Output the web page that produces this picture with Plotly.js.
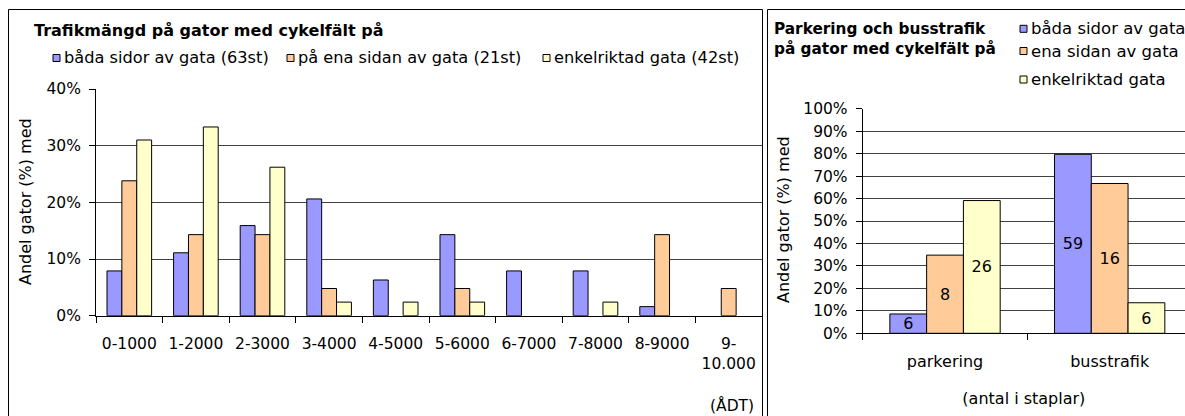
<!DOCTYPE html>
<html>
<head>
<meta charset="utf-8">
<script src="https://cdn.plot.ly/plotly-3.0.1.min.js"></script>
<style>
  html, body { margin: 0; padding: 0; background: #fff; overflow: hidden; }
  #chart { width: 1185px; height: 416px; }
</style>
</head>
<body>
<div id="chart"></div>
<script>
// ---------- data ----------
const trafficCategories = ['0-1000', '1-2000', '2-3000', '3-4000', '4-5000', '5-6000', '6-7000', '7-8000', '8-9000', '9-<br>10.000'];
const trafficSeriesNames = ['båda sidor av gata (63st)', 'på ena sidan av gata (21st)', 'enkelriktad gata (42st)'];
const trafficBothSides = [7.9, 11.1, 15.9, 20.6, 6.3, 14.3, 7.9, 7.9, 1.6, 0];
const trafficOneSide   = [23.8, 14.3, 14.3, 4.8, 0, 4.8, 0, 0, 14.3, 4.8];
const trafficOneWay    = [31.0, 33.3, 26.2, 2.4, 2.4, 2.4, 0, 2.4, 0, 0];
const trafficYTicks = [0, 10, 20, 30, 40];

const useCategories = ['parkering', 'busstrafik'];
const useSeriesNames = ['båda sidor av gata', 'ena sidan av gata', 'enkelriktad gata'];
const useBothSides = [8.6, 79.7];
const useOneSide   = [34.8, 66.7];
const useOneWay    = [59.1, 13.6];
const countBothSides = [6, 59];
const countOneSide   = [8, 16];
const countOneWay    = [26, 6];
const useYTicks = [0, 10, 20, 30, 40, 50, 60, 70, 80, 90, 100];

const leftTitle = 'Trafikmängd på gator med cykelfält på';
const rightTitle = 'Parkering och busstrafik<br>på gator med cykelfält på';
const yTitle = 'Andel gator (%) med';
const leftXNote = '(ÅDT)';
const rightXTitle = '(antal i staplar)';

// ---------- style ----------
const W = 1185, H = 416;
const FONT = 'DejaVu Sans';
const colors = ['#9999FF', '#FFCC99', '#FFFFCC'];
const px = x => x / W;
const py = y => 1 - y / H;
const nz = arr => arr.map(v => (v === 0 ? null : v));

const barLine = { color: '#000000', width: 1 };

const traces = [];
[trafficBothSides, trafficOneSide, trafficOneWay].forEach((vals, i) => {
  traces.push({
    type: 'bar', x: trafficCategories, y: nz(vals), name: trafficSeriesNames[i],
    xaxis: 'x', yaxis: 'y',
    marker: { color: colors[i], line: barLine },
    hoverinfo: 'skip', showlegend: false
  });
});
[[useBothSides, countBothSides], [useOneSide, countOneSide], [useOneWay, countOneWay]].forEach((pair, i) => {
  traces.push({
    type: 'bar', x: useCategories, y: pair[0], name: useSeriesNames[i],
    xaxis: 'x2', yaxis: 'y2',
    text: pair[1].map(String), textposition: 'inside', insidetextanchor: 'middle',
    textangle: 0, constraintext: 'none',
    textfont: { family: FONT, size: 16, color: '#000000' },
    marker: { color: colors[i], line: barLine },
    hoverinfo: 'skip', showlegend: false
  });
});

const tickFont = { family: FONT, size: 15.5, color: '#000000' };
const gridColor = '#404040';

const shapes = [
  // panel borders
  { type: 'rect', xref: 'paper', yref: 'paper', x0: px(8.5), x1: px(762.5), y0: py(440), y1: py(9.5),
    line: { color: '#000', width: 1 }, fillcolor: 'rgba(0,0,0,0)', layer: 'above' },
  { type: 'rect', xref: 'paper', yref: 'paper', x0: px(767.5), x1: px(1210), y0: py(440), y1: py(9.5),
    line: { color: '#000', width: 1 }, fillcolor: 'rgba(0,0,0,0)', layer: 'above' }
];
const annotations = [
  { text: '<b>' + leftTitle + '</b>', xref: 'paper', yref: 'paper', x: px(32), y: py(31), xanchor: 'left', yanchor: 'middle',
    showarrow: false, font: { family: FONT, size: 16, color: '#000' } },
  { text: '<b>' + rightTitle + '</b>', xref: 'paper', yref: 'paper', x: px(772), y: py(39), xanchor: 'left', yanchor: 'middle',
    showarrow: false, align: 'left', font: { family: FONT, size: 15.3, color: '#000' } },
  { text: yTitle, xref: 'paper', yref: 'paper', x: px(25), y: py(202), xanchor: 'center', yanchor: 'middle', textangle: -90,
    showarrow: false, font: { family: FONT, size: 16, color: '#000' } },
  { text: yTitle, xref: 'paper', yref: 'paper', x: px(783), y: py(220), xanchor: 'center', yanchor: 'middle', textangle: -90,
    showarrow: false, font: { family: FONT, size: 16, color: '#000' } },
  { text: leftXNote, xref: 'paper', yref: 'paper', x: px(756), y: py(405), xanchor: 'right', yanchor: 'middle',
    showarrow: false, font: { family: FONT, size: 15.5, color: '#000' } }
];

// legends drawn as marker squares + text
const leftLegendX = [53, 287, 543];
const leftLegendY = 58;
trafficSeriesNames.forEach((name, i) => {
  const x0 = leftLegendX[i];
  shapes.push({ type: 'rect', xref: 'paper', yref: 'paper', x0: px(x0), x1: px(x0 + 7), y0: py(leftLegendY + 3.5), y1: py(leftLegendY - 3.5),
    line: { color: '#000', width: 1 }, fillcolor: colors[i] });
  annotations.push({ text: name, xref: 'paper', yref: 'paper', x: px(x0 + 9), y: py(leftLegendY), xanchor: 'left', yanchor: 'middle',
    showarrow: false, font: { family: FONT, size: 16.2, color: '#000' } });
});
const rightLegendX = 1020;
const rightLegendY = [28.8, 51, 79.5];
useSeriesNames.forEach((name, i) => {
  const yc = rightLegendY[i];
  shapes.push({ type: 'rect', xref: 'paper', yref: 'paper', x0: px(rightLegendX), x1: px(rightLegendX + 7), y0: py(yc + 3.5), y1: py(yc - 3.5),
    line: { color: '#000', width: 1 }, fillcolor: colors[i] });
  annotations.push({ text: name, xref: 'paper', yref: 'paper', x: px(rightLegendX + 9), y: py(yc), xanchor: 'left', yanchor: 'middle',
    showarrow: false, font: { family: FONT, size: 16.5, color: '#000' } });
});

const layout = {
  width: W, height: H,
  margin: { l: 0, r: 0, t: 0, b: 0, pad: 0 },
  paper_bgcolor: '#ffffff', plot_bgcolor: 'rgba(0,0,0,0)',
  font: { family: FONT, size: 15.5, color: '#000' },
  barmode: 'group', bargap: 0.33, bargroupgap: 0,
  showlegend: false,
  xaxis: {
    type: 'category', domain: [px(96), px(762)], anchor: 'y',
    tickson: 'boundaries', ticks: 'outside', ticklen: 6, tickcolor: '#000', tickwidth: 1,
    showline: true, linecolor: '#000', linewidth: 1, showgrid: false,
    tickfont: tickFont, ticklabelstandoff: 14, automargin: false, fixedrange: true
  },
  yaxis: {
    domain: [py(315.7), py(89)], anchor: 'x', range: [0, 40],
    tickmode: 'array', tickvals: trafficYTicks, ticktext: trafficYTicks.map(v => v + '%'),
    ticks: 'outside', ticklen: 6, tickcolor: '#000', tickwidth: 1,
    showline: true, linecolor: '#000', linewidth: 1,
    showgrid: true, gridcolor: gridColor, gridwidth: 1, zeroline: false,
    tickfont: tickFont, ticklabelstandoff: 5, automargin: false, fixedrange: true
  },
  xaxis2: {
    type: 'category', domain: [px(862.7), 1], anchor: 'y2', range: [-0.5, 1.4575],
    tickson: 'boundaries', ticks: 'outside', ticklen: 6, tickcolor: '#000', tickwidth: 1,
    showline: true, linecolor: '#000', linewidth: 1, showgrid: false,
    tickfont: { family: FONT, size: 16, color: '#000' }, ticklabelstandoff: 13, automargin: false, fixedrange: true,
    title: { text: rightXTitle, font: { family: FONT, size: 16, color: '#000' }, standoff: 23 }
  },
  yaxis2: {
    domain: [py(333.3), py(108.7)], anchor: 'x2', range: [0, 100],
    tickmode: 'array', tickvals: useYTicks, ticktext: useYTicks.map(v => v + '%'),
    ticks: 'outside', ticklen: 6, tickcolor: '#000', tickwidth: 1,
    showline: true, linecolor: '#000', linewidth: 1,
    showgrid: true, gridcolor: gridColor, gridwidth: 1, zeroline: false,
    tickfont: { family: FONT, size: 15.5, color: '#000' }, ticklabelstandoff: 5, automargin: false, fixedrange: true
  },
  shapes: shapes,
  annotations: annotations
};

Plotly.newPlot('chart', traces, layout, { staticPlot: true, displayModeBar: false });
</script>
</body>
</html>
